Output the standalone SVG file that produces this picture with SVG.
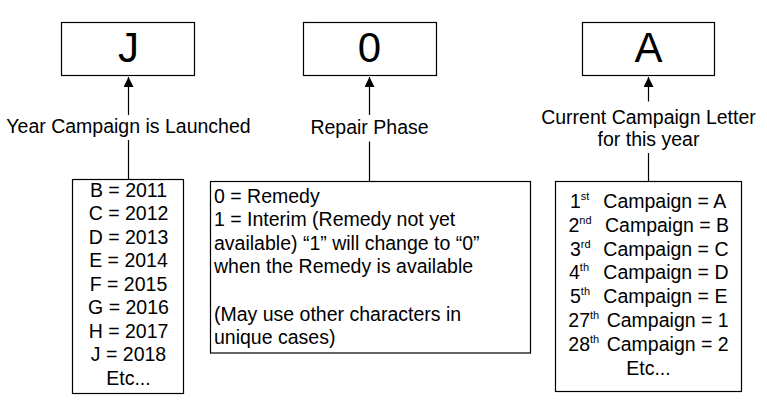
<svg xmlns="http://www.w3.org/2000/svg" width="767" height="413" viewBox="0 0 767 413">
<style>
  .box { fill: #fff; stroke: #000; stroke-width: 1.2; }
  .big { font-family: "Liberation Sans", Arial, sans-serif; font-size: 42px; fill: #000; text-anchor: middle; }
  .t { font-family: "Liberation Sans", Arial, sans-serif; font-size: 19.5px; fill: #000; }
  .c { text-anchor: middle; }
  .sup { font-size: 11px; }
  .conn { fill: none; stroke: #000; stroke-width: 1.2; }
</style>
<defs>
  <marker id="arrow" markerUnits="userSpaceOnUse" markerWidth="10" markerHeight="11" refX="10" refY="5" orient="auto">
    <path d="M0,0 L10,5 L0,10 z" fill="#000"/>
  </marker>
</defs>
<rect width="767" height="413" fill="#fff"/>

<g id="connectors">
  <path class="conn" d="M128.5 179.5 V140 M128.5 115 V77" marker-end="url(#arrow)"/>
  <path class="conn" d="M369.5 181.5 V141.5 M369.5 115 V77" marker-end="url(#arrow)"/>
  <path class="conn" d="M648.5 181.5 V153 M648.5 101.5 V77" marker-end="url(#arrow)"/>
  <text class="t c" x="128.5" y="132.5">Year Campaign is Launched</text>
  <text class="t c" x="369.5" y="134.3">Repair Phase</text>
  <text class="t c" x="648.5" y="123.5">Current Campaign Letter</text>
  <text class="t c" x="648.5" y="146">for this year</text>
</g>

<g id="node-J">
  <rect class="box" x="61.5" y="22.5" width="133" height="53"/>
  <text class="big" x="128.5" y="61.7">J</text>
</g>
<g id="node-0">
  <rect class="box" x="303.5" y="22.5" width="133" height="53"/>
  <text class="big" x="369.5" y="61.7">0</text>
</g>
<g id="node-A">
  <rect class="box" x="582.5" y="22.5" width="132" height="53"/>
  <text class="big" x="648.5" y="61.7">A</text>
</g>

<g id="node-years">
  <rect class="box" x="72.5" y="179.5" width="111" height="214"/>
  <text class="t c" x="128.5" y="196.7">B = 2011</text>
  <text class="t c" x="128.5" y="220.2">C = 2012</text>
  <text class="t c" x="128.5" y="243.7">D = 2013</text>
  <text class="t c" x="128.5" y="267.2">E = 2014</text>
  <text class="t c" x="128.5" y="290.7">F = 2015</text>
  <text class="t c" x="128.5" y="314.2">G = 2016</text>
  <text class="t c" x="128.5" y="337.7">H = 2017</text>
  <text class="t c" x="128.5" y="361.2">J = 2018</text>
  <text class="t c" x="128.5" y="384.7">Etc...</text>
</g>

<g id="node-phase">
  <rect class="box" x="210.5" y="181.5" width="320" height="171.5"/>
  <text class="t" x="214" y="202.5">0 = Remedy</text>
  <text class="t" x="214" y="226.1">1 = Interim (Remedy not yet</text>
  <text class="t" x="214" y="249.7">available) “1” will change to “0”</text>
  <text class="t" x="214" y="273.3">when the Remedy is available</text>
  <text class="t" x="214" y="320.5">(May use other characters in</text>
  <text class="t" x="214" y="344.1">unique cases)</text>
</g>

<g id="node-letters">
  <rect class="box" x="555.5" y="181.5" width="186" height="210"/>
  <text class="t" x="570" y="208">1<tspan class="sup" dy="-8">st</tspan><tspan x="603.3" y="208">Campaign = A</tspan></text>
  <text class="t" x="568.5" y="231.8">2<tspan class="sup" dy="-8">nd</tspan><tspan x="605" y="231.8">Campaign = B</tspan></text>
  <text class="t" x="570" y="255.6">3<tspan class="sup" dy="-8">rd</tspan><tspan x="603.3" y="255.6">Campaign = C</tspan></text>
  <text class="t" x="569" y="279.4">4<tspan class="sup" dy="-8">th</tspan><tspan x="603.3" y="279.4">Campaign = D</tspan></text>
  <text class="t" x="570" y="303.2">5<tspan class="sup" dy="-8">th</tspan><tspan x="603.3" y="303.2">Campaign = E</tspan></text>
  <text class="t" x="568.3" y="327">27<tspan class="sup" dy="-8">th</tspan><tspan x="606.7" y="327">Campaign = 1</tspan></text>
  <text class="t" x="568.3" y="350.8">28<tspan class="sup" dy="-8">th</tspan><tspan x="606.7" y="350.8">Campaign = 2</tspan></text>
  <text class="t c" x="648.5" y="374.6">Etc...</text>
</g>
</svg>
